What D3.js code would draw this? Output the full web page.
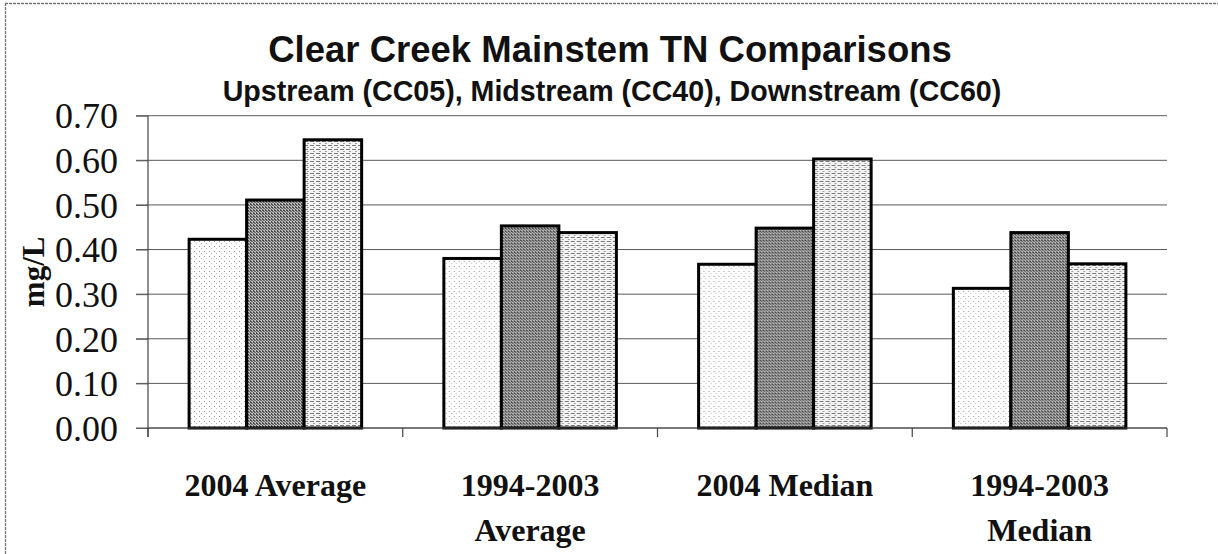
<!DOCTYPE html>
<html>
<head>
<meta charset="utf-8">
<script src="https://cdn.jsdelivr.net/npm/d3@7"></script>
<style>
  html, body { margin: 0; padding: 0; background: #fff; }
  svg { display: block; }
</style>
</head>
<body>
<svg id="chart" width="1218" height="554"></svg>
<script>
// Total nitrogen (mg/L) at three Clear Creek mainstem stations
const categories = [
  ["2004 Average"],
  ["1994-2003", "Average"],
  ["2004 Median"],
  ["1994-2003", "Median"]
];
const seriesNames = ["Upstream (CC05)", "Midstream (CC40)", "Downstream (CC60)"];
const upstream   = [0.423, 0.380, 0.367, 0.313];
const midstream  = [0.511, 0.453, 0.448, 0.438];
const downstream = [0.646, 0.438, 0.603, 0.368];
const yTicks = [0, 0.1, 0.2, 0.3, 0.4, 0.5, 0.6, 0.7];

const seriesValues = [upstream, midstream, downstream];
const catKeys = categories.map(c => c.join(" "));
const rows = catKeys.map((k, i) => ({
  key: k,
  values: seriesNames.map((s, j) => ({ series: s, idx: j, value: seriesValues[j][i] }))
}));

const svg = d3.select("#chart");
const W = 1218, H = 554;
const plot = { left: 148, right: 1167, top: 115.7, bottom: 428 };

// Hatch-style fills for the three stations
const defs = svg.append("defs");
const p0 = defs.append("pattern").attr("id", "pat0").attr("patternUnits", "userSpaceOnUse")
  .attr("width", 5).attr("height", 5);
p0.append("rect").attr("width", 5).attr("height", 5).attr("fill", "#ffffff");
p0.append("rect").attr("x", 1).attr("y", 1).attr("width", 1).attr("height", 1).attr("fill", "#9a9a9a");
p0.append("rect").attr("x", 3).attr("y", 3).attr("width", 1).attr("height", 1).attr("fill", "#bdbdbd");

const p1 = defs.append("pattern").attr("id", "pat1").attr("patternUnits", "userSpaceOnUse")
  .attr("width", 3).attr("height", 3);
p1.append("rect").attr("width", 3).attr("height", 3).attr("fill", "#bcbcbc");
p1.append("rect").attr("x", 0).attr("y", 0).attr("width", 2).attr("height", 1).attr("fill", "#4a4a4a");
p1.append("rect").attr("x", 1).attr("y", 1).attr("width", 2).attr("height", 1).attr("fill", "#6e6e6e");
p1.append("rect").attr("x", 0).attr("y", 2).attr("width", 1).attr("height", 1).attr("fill", "#585858");

const p2 = defs.append("pattern").attr("id", "pat2").attr("patternUnits", "userSpaceOnUse")
  .attr("width", 6).attr("height", 4);
p2.append("rect").attr("width", 6).attr("height", 4).attr("fill", "#f4f4f4");
p2.append("rect").attr("x", 0).attr("y", 1).attr("width", 4).attr("height", 1).attr("fill", "#7a7a7a");
p2.append("rect").attr("x", 3).attr("y", 3).attr("width", 2).attr("height", 1).attr("fill", "#a0a0a0");

// Frame edges
svg.append("line").attr("x1", 5.5).attr("x2", 5.5).attr("y1", 3).attr("y2", H)
  .attr("stroke", "#777").attr("stroke-width", 1.3).attr("stroke-dasharray", "3,1");
svg.append("line").attr("x1", 5).attr("x2", W).attr("y1", 3.5).attr("y2", 3.5)
  .attr("stroke", "#777").attr("stroke-width", 1.3).attr("stroke-dasharray", "3,1");

// Scales
const x0 = d3.scaleBand().domain(catKeys).range([plot.left, plot.right]).paddingInner(0).paddingOuter(0);
const x1 = d3.scaleBand().domain(seriesNames).range([0, x0.bandwidth()]).paddingInner(0).paddingOuter(0.715);
const y = d3.scaleLinear().domain([0, 0.7]).range([plot.bottom, plot.top]);

// Gridlines
svg.append("g").selectAll("line").data(yTicks).join("line")
  .attr("x1", plot.left - 12).attr("x2", plot.right)
  .attr("y1", d => y(d)).attr("y2", d => y(d))
  .attr("stroke", "#5a5a5a").attr("stroke-width", 1);

// Y axis
const yAxis = svg.append("g").attr("transform", `translate(${plot.left},0)`)
  .call(d3.axisLeft(y).tickValues(yTicks).tickFormat(d3.format(".2f")).tickSize(12).tickPadding(18));
yAxis.select(".domain").remove();
yAxis.selectAll(".tick line").attr("stroke", "#5a5a5a");
yAxis.selectAll("text")
  .attr("font-family", "'Liberation Serif', 'Times New Roman', serif")
  .attr("font-size", 36).attr("fill", "#111").attr("dy", "0.34em");
svg.append("line").attr("x1", plot.left).attr("x2", plot.left)
  .attr("y1", plot.top).attr("y2", plot.bottom + 9)
  .attr("stroke", "#444").attr("stroke-width", 1.2);

// Y title
svg.append("text")
  .attr("transform", `translate(44,${(plot.top + plot.bottom) / 2}) rotate(-90)`)
  .attr("text-anchor", "middle")
  .attr("font-family", "'Liberation Serif', 'Times New Roman', serif")
  .attr("font-weight", "bold").attr("font-size", 31).attr("fill", "#111")
  .text("mg/L");

// Bars
const groups = svg.append("g").selectAll("g").data(rows).join("g")
  .attr("transform", d => `translate(${x0(d.key)},0)`);
groups.selectAll("rect").data(d => d.values).join("rect")
  .attr("x", d => x1(d.series))
  .attr("y", d => y(d.value))
  .attr("width", x1.bandwidth())
  .attr("height", d => y(0) - y(d.value))
  .attr("fill", d => `url(#pat${d.idx})`)
  .attr("stroke", "#000").attr("stroke-width", 3);

// Category axis
const xAxis = svg.append("g").attr("transform", `translate(0,${plot.bottom})`);
xAxis.append("line").attr("x1", plot.left).attr("x2", plot.right)
  .attr("stroke", "#444").attr("stroke-width", 1.2);
const bounds = catKeys.map(k => x0(k)).concat([plot.right]);
xAxis.selectAll("line.tk").data(bounds).join("line").attr("class", "tk")
  .attr("x1", d => d).attr("x2", d => d).attr("y1", 0).attr("y2", 9)
  .attr("stroke", "#444").attr("stroke-width", 1.2);
const catLabels = svg.append("g").selectAll("text").data(categories).join("text")
  .attr("x", (d, i) => x0(catKeys[i]) + x0.bandwidth() / 2)
  .attr("y", 496)
  .attr("text-anchor", "middle")
  .attr("font-family", "'Liberation Serif', 'Times New Roman', serif")
  .attr("font-weight", "bold").attr("font-size", 32).attr("fill", "#111");
catLabels.selectAll("tspan").data(d => d).join("tspan")
  .attr("x", function () { return d3.select(this.parentNode).attr("x"); })
  .attr("dy", (d, i) => i === 0 ? 0 : 45)
  .text(d => d);

// Titles
svg.append("text").attr("x", 610).attr("y", 62).attr("text-anchor", "middle")
  .attr("font-family", "'Liberation Sans', Arial, sans-serif")
  .attr("font-weight", "bold").attr("font-size", 36.5).attr("fill", "#111")
  .text("Clear Creek Mainstem TN Comparisons");
svg.append("text").attr("x", 612).attr("y", 101).attr("text-anchor", "middle")
  .attr("font-family", "'Liberation Sans', Arial, sans-serif")
  .attr("font-weight", "bold").attr("font-size", 28.6).attr("fill", "#111")
  .text("Upstream (CC05), Midstream (CC40), Downstream (CC60)");
</script>
</body>
</html>
